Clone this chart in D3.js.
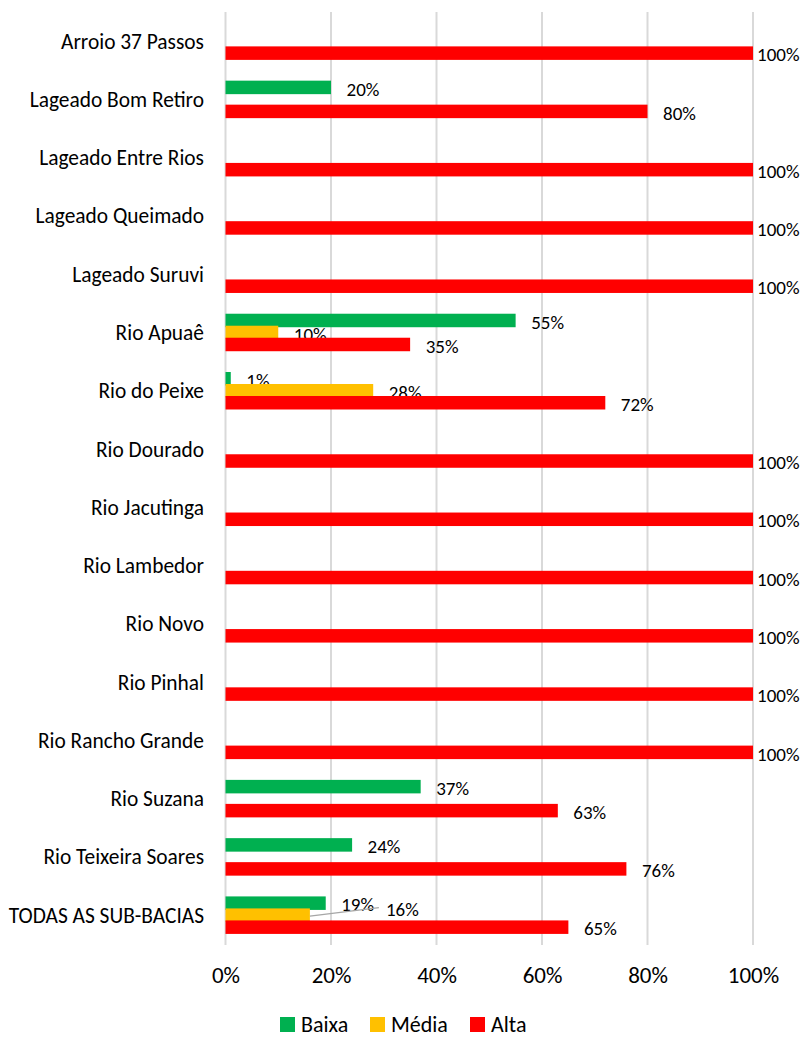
<!DOCTYPE html>
<html>
<head>
<meta charset="utf-8">
<script src="https://cdn.jsdelivr.net/npm/d3@7"></script>
<style>
  html, body { margin: 0; padding: 0; background: #fff; }
  svg { display: block; font-family: Carlito, Lato, "Liberation Sans", Arial, sans-serif; }
</style>
</head>
<body>
<svg id="chart" width="804" height="1037"></svg>
<script>
// Sub-basin names, top to bottom
const categories = [
  "Arroio 37 Passos", "Lageado Bom Retiro", "Lageado Entre Rios", "Lageado Queimado",
  "Lageado Suruvi", "Rio Apuaê", "Rio do Peixe", "Rio Dourado", "Rio Jacutinga",
  "Rio Lambedor", "Rio Novo", "Rio Pinhal", "Rio Rancho Grande", "Rio Suzana",
  "Rio Teixeira Soares", "TODAS AS SUB-BACIAS"
];
// Share (%) of each class per sub-basin
const baixa = [0, 20, 0, 0, 0, 55, 1, 0, 0, 0, 0, 0, 0, 37, 24, 19];
const media = [0, 0, 0, 0, 0, 10, 28, 0, 0, 0, 0, 0, 0, 0, 0, 16];
const alta  = [100, 80, 100, 100, 100, 35, 72, 100, 100, 100, 100, 100, 100, 63, 76, 65];
const seriesNames = ["Baixa", "Média", "Alta"];
const seriesColors = ["#00b050", "#ffc000", "#ff0000"];
const tickValues = [0, 20, 40, 60, 80, 100];

const series = [baixa, media, alta];
const svg = d3.select("#chart");

const x = d3.scaleLinear().domain([0, 100]).range([225.5, 753]);
const y = d3.scaleBand().domain(categories).range([12, 944.3]).paddingInner(0).paddingOuter(0);
const barStep = 12, barH = 13.5;

// Vertical gridlines
svg.append("g").selectAll("line").data(tickValues).join("line")
  .attr("x1", d => x(d)).attr("x2", d => x(d))
  .attr("y1", 12).attr("y2", 945)
  .attr("stroke", "#d9d9d9").attr("stroke-width", 2);

// X axis tick labels
const xAxis = d3.axisBottom(x).tickValues(tickValues).tickFormat(d => d + "%").tickSize(0).tickPadding(0);
const gx = svg.append("g").attr("transform", "translate(0,974.5)").call(xAxis);
gx.select(".domain").remove();
gx.selectAll("text").attr("font-size", 23).attr("fill", "#000")
  .attr("font-family", "Carlito, Lato, 'Liberation Sans', Arial, sans-serif")
  .attr("y", 0).attr("dy", "0.35em");

// Category labels
svg.append("g").selectAll("text").data(categories).join("text")
  .attr("x", 204)
  .attr("y", d => y(d) + y.bandwidth() / 2)
  .attr("dy", "0.35em")
  .attr("text-anchor", "end")
  .attr("font-size", 21.4)
  .attr("fill", "#000")
  .text(d => d);

// Bars and value labels
series.forEach((vals, si) => {
  const cy = (c) => y(c) + y.bandwidth() / 2 + (si - 1) * barStep;
  const g = svg.append("g");
  g.selectAll("rect").data(categories.map((c, i) => ({ c, v: vals[i] })).filter(d => d.v > 0))
    .join("rect")
    .attr("x", x(0))
    .attr("y", d => cy(d.c) - barH / 2)
    .attr("width", d => x(d.v) - x(0))
    .attr("height", barH)
    .attr("fill", seriesColors[si]);

  categories.forEach((c, i) => {
    const v = vals[i];
    if (v <= 0) return;
    let lx = Math.min(x(v) + 15.5, 757);
    let ly = cy(c) + 1.5;
    // Total-row "Média" label is moved aside with a leader line
    if (si === 1 && i === categories.length - 1) {
      const ex = x(v), ey = cy(c) + 1;
      lx = x(v) + 76; ly = cy(c) - 6;
      g.append("line")
        .attr("x1", ex).attr("y1", ey).attr("x2", lx - 7).attr("y2", ly - 1.5)
        .attr("stroke", "#a6a6a6").attr("stroke-width", 1.3);
    }
    g.append("text")
      .attr("x", lx).attr("y", ly)
      .attr("dy", "0.35em")
      .attr("font-size", 19)
      .attr("fill", "#000")
      .text(v + "%");
  });
});

// Legend
const legend = svg.append("g").attr("transform", "translate(280,1023)");
const legendX = [0, 90, 190];
seriesNames.forEach((n, i) => {
  const lg = legend.append("g").attr("transform", `translate(${legendX[i]},0)`);
  lg.append("rect").attr("x", 0).attr("y", -6).attr("width", 15).attr("height", 15).attr("fill", seriesColors[i]);
  lg.append("text").attr("x", 21).attr("y", 1.5).attr("dy", "0.35em")
    .attr("font-size", 22).attr("fill", "#000").text(n);
});
</script>
</body>
</html>
